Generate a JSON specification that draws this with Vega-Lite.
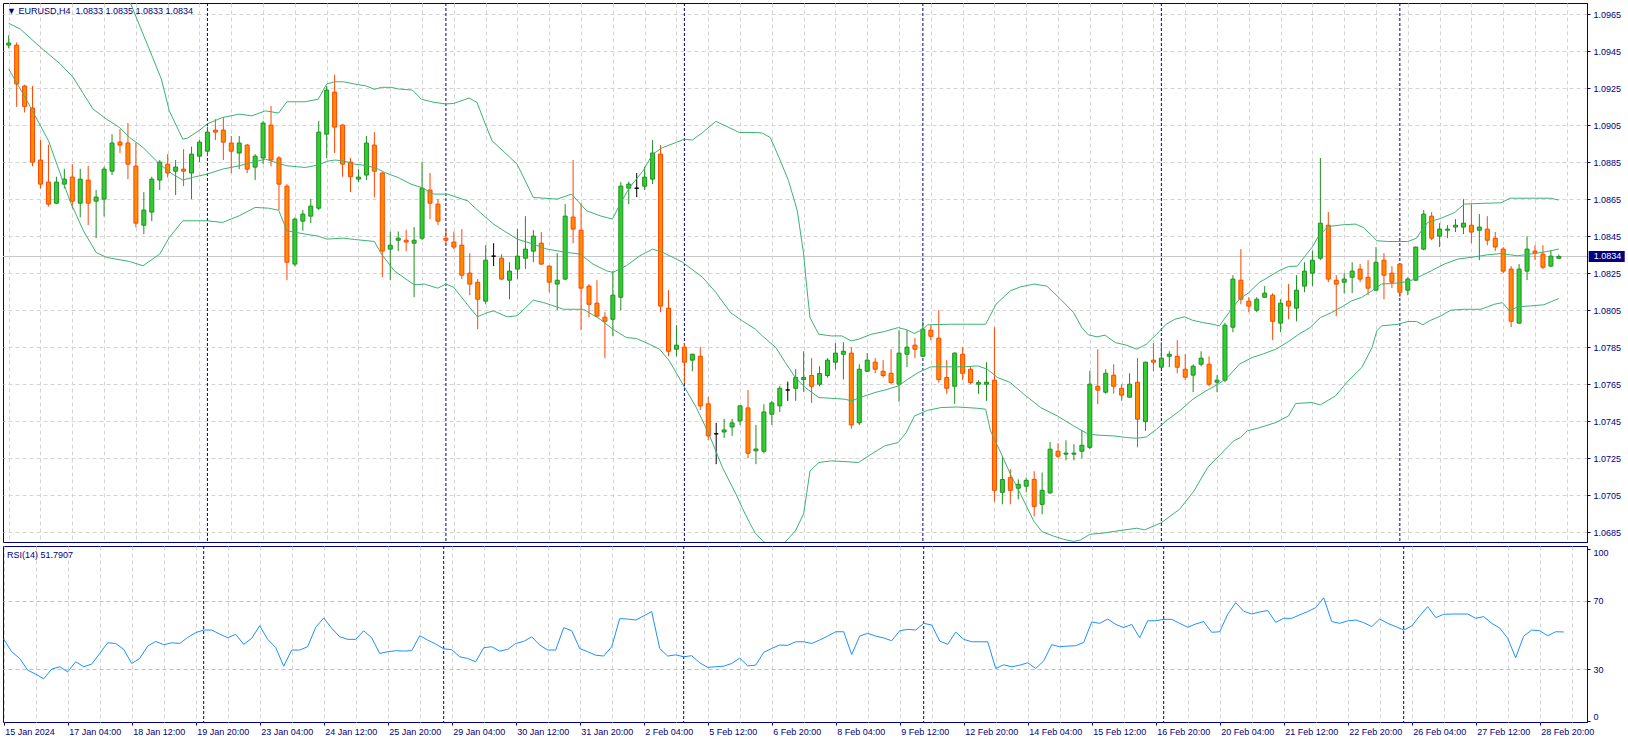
{
"$schema": "https://vega.github.io/schema/vega-lite/v6.json",
"background": "#ffffff",
"padding": {"left": 1, "top": 2, "right": 0, "bottom": 0},
"spacing": 2,
"config": {"font": "Liberation Sans", "view": {"stroke": "#000080", "strokeWidth": 1}, "axis": {"labelFont": "Liberation Sans", "labelFontSize": 9, "labelColor": "#000080", "domainColor": "#000080", "tickColor": "#000080", "labelOverlap": false}},
"datasets": {
"seps": [{"i":25},{"i":55},{"i":85},{"i":115},{"i":145},{"i":175}],
"last": [{"price": 1.0834}],
"bars": [
{"i":0,"o":1.09482,"h":1.09535,"l":1.09465,"c":1.09493,"r":47.5},
{"i":1,"o":1.09482,"h":1.09497,"l":1.09149,"c":1.09272,"r":40.3},
{"i":2,"o":1.09261,"h":1.09268,"l":1.09118,"c":1.09151,"r":36.4},
{"i":3,"o":1.09142,"h":1.09261,"l":1.08827,"c":1.0885,"r":29.6},
{"i":4,"o":1.08861,"h":1.08969,"l":1.08708,"c":1.08731,"r":27.3},
{"i":5,"o":1.08742,"h":1.08944,"l":1.0861,"c":1.08623,"r":24.6},
{"i":6,"o":1.08628,"h":1.08771,"l":1.08623,"c":1.08742,"r":30.2},
{"i":7,"o":1.08731,"h":1.08814,"l":1.08708,"c":1.08758,"r":31.6},
{"i":8,"o":1.08769,"h":1.08839,"l":1.086,"c":1.08639,"r":28.6},
{"i":9,"o":1.08628,"h":1.08814,"l":1.08551,"c":1.08758,"r":34.5},
{"i":10,"o":1.08753,"h":1.0883,"l":1.0851,"c":1.08628,"r":31.6},
{"i":11,"o":1.08639,"h":1.08699,"l":1.08439,"c":1.08661,"r":33.1},
{"i":12,"o":1.0865,"h":1.08825,"l":1.08556,"c":1.08812,"r":39.3},
{"i":13,"o":1.08801,"h":1.09001,"l":1.0878,"c":1.08953,"r":45.5},
{"i":14,"o":1.08958,"h":1.09028,"l":1.08899,"c":1.08942,"r":45.1},
{"i":15,"o":1.08953,"h":1.09061,"l":1.08758,"c":1.08839,"r":41.7},
{"i":16,"o":1.08828,"h":1.08953,"l":1.08497,"c":1.0852,"r":33.5},
{"i":17,"o":1.08509,"h":1.08688,"l":1.08461,"c":1.08591,"r":36.4},
{"i":18,"o":1.0858,"h":1.08771,"l":1.08531,"c":1.08758,"r":43.6},
{"i":19,"o":1.08753,"h":1.08861,"l":1.08699,"c":1.0885,"r":46.3},
{"i":20,"o":1.08839,"h":1.08893,"l":1.08767,"c":1.08791,"r":44.4},
{"i":21,"o":1.08801,"h":1.08861,"l":1.08672,"c":1.08823,"r":45.5},
{"i":22,"o":1.08812,"h":1.0892,"l":1.0872,"c":1.08801,"r":45.1},
{"i":23,"o":1.08791,"h":1.08933,"l":1.0865,"c":1.08893,"r":48.6},
{"i":24,"o":1.08882,"h":1.08969,"l":1.0885,"c":1.08958,"r":51.4},
{"i":25,"o":1.08909,"h":1.09041,"l":1.08882,"c":1.09012,"r":52.9},
{"i":26,"o":1.09023,"h":1.09082,"l":1.08969,"c":1.09012,"r":52.9},
{"i":27,"o":1.09023,"h":1.09093,"l":1.08861,"c":1.08958,"r":50.6},
{"i":28,"o":1.08953,"h":1.08991,"l":1.08791,"c":1.08909,"r":48.4},
{"i":29,"o":1.08899,"h":1.08991,"l":1.08812,"c":1.08953,"r":50.4},
{"i":30,"o":1.08942,"h":1.08948,"l":1.08791,"c":1.08812,"r":44.6},
{"i":31,"o":1.08823,"h":1.08893,"l":1.08753,"c":1.08882,"r":48.1},
{"i":32,"o":1.08872,"h":1.09073,"l":1.08839,"c":1.09061,"r":55.4},
{"i":33,"o":1.0905,"h":1.09153,"l":1.08827,"c":1.08861,"r":47.5},
{"i":34,"o":1.08872,"h":1.08882,"l":1.08591,"c":1.08731,"r":42.8},
{"i":35,"o":1.0872,"h":1.08731,"l":1.08212,"c":1.08309,"r":31.9},
{"i":36,"o":1.08299,"h":1.08551,"l":1.08286,"c":1.08542,"r":41.3},
{"i":37,"o":1.08531,"h":1.08591,"l":1.08479,"c":1.08569,"r":41.3},
{"i":38,"o":1.08558,"h":1.0865,"l":1.0852,"c":1.08612,"r":43.2},
{"i":39,"o":1.08601,"h":1.09073,"l":1.08591,"c":1.09012,"r":54.5},
{"i":40,"o":1.09001,"h":1.09261,"l":1.08872,"c":1.09239,"r":59.9},
{"i":41,"o":1.09228,"h":1.09322,"l":1.08899,"c":1.09039,"r":53.9},
{"i":42,"o":1.0905,"h":1.09055,"l":1.08771,"c":1.08839,"r":49.0},
{"i":43,"o":1.0885,"h":1.08872,"l":1.08688,"c":1.08771,"r":47.5},
{"i":44,"o":1.08758,"h":1.08812,"l":1.08742,"c":1.08769,"r":47.5},
{"i":45,"o":1.0878,"h":1.08991,"l":1.08753,"c":1.08953,"r":52.5},
{"i":46,"o":1.08942,"h":1.09012,"l":1.08659,"c":1.08801,"r":48.4},
{"i":47,"o":1.08791,"h":1.08795,"l":1.08228,"c":1.08369,"r":39.3},
{"i":48,"o":1.0838,"h":1.08475,"l":1.08212,"c":1.08401,"r":40.3},
{"i":49,"o":1.08428,"h":1.08475,"l":1.08369,"c":1.08439,"r":40.9},
{"i":50,"o":1.08428,"h":1.08484,"l":1.08369,"c":1.08418,"r":40.7},
{"i":51,"o":1.08412,"h":1.08499,"l":1.0812,"c":1.08428,"r":40.9},
{"i":52,"o":1.08439,"h":1.0885,"l":1.08428,"c":1.08709,"r":49.6},
{"i":53,"o":1.08699,"h":1.08791,"l":1.08542,"c":1.08628,"r":47.1},
{"i":54,"o":1.08623,"h":1.0865,"l":1.0851,"c":1.08531,"r":44.8},
{"i":55,"o":1.08439,"h":1.08488,"l":1.08401,"c":1.08428,"r":42.0},
{"i":56,"o":1.08418,"h":1.08475,"l":1.0838,"c":1.08391,"r":41.5},
{"i":57,"o":1.08401,"h":1.08488,"l":1.08218,"c":1.08239,"r":37.4},
{"i":58,"o":1.0825,"h":1.08358,"l":1.08131,"c":1.08191,"r":36.4},
{"i":59,"o":1.08201,"h":1.08218,"l":1.07947,"c":1.08109,"r":34.5},
{"i":60,"o":1.08099,"h":1.08401,"l":1.08082,"c":1.0832,"r":42.6},
{"i":61,"o":1.08342,"h":1.08412,"l":1.08288,"c":1.08342,"r":43.2},
{"i":62,"o":1.08331,"h":1.08353,"l":1.08212,"c":1.08218,"r":40.7},
{"i":63,"o":1.08212,"h":1.08309,"l":1.08109,"c":1.08261,"r":41.7},
{"i":64,"o":1.08272,"h":1.08488,"l":1.08218,"c":1.08342,"r":45.1},
{"i":65,"o":1.08331,"h":1.08558,"l":1.08272,"c":1.0838,"r":46.3},
{"i":66,"o":1.08369,"h":1.08482,"l":1.08309,"c":1.0845,"r":49.0},
{"i":67,"o":1.08412,"h":1.08472,"l":1.08295,"c":1.08299,"r":44.2},
{"i":68,"o":1.08288,"h":1.08292,"l":1.08147,"c":1.08201,"r":41.3},
{"i":69,"o":1.08191,"h":1.08358,"l":1.0805,"c":1.08212,"r":41.3},
{"i":70,"o":1.08218,"h":1.08623,"l":1.08212,"c":1.08558,"r":54.3},
{"i":71,"o":1.08553,"h":1.08861,"l":1.08412,"c":1.08488,"r":52.5},
{"i":72,"o":1.08482,"h":1.08628,"l":1.07942,"c":1.08169,"r":42.2},
{"i":73,"o":1.0818,"h":1.08191,"l":1.08012,"c":1.08082,"r":40.3},
{"i":74,"o":1.08088,"h":1.08212,"l":1.08012,"c":1.08018,"r":38.3},
{"i":75,"o":1.08012,"h":1.08039,"l":1.07791,"c":1.0799,"r":37.8},
{"i":76,"o":1.08001,"h":1.08261,"l":1.07909,"c":1.08131,"r":43.2},
{"i":77,"o":1.0812,"h":1.08742,"l":1.0805,"c":1.0872,"r":59.5},
{"i":78,"o":1.08709,"h":1.08745,"l":1.08623,"c":1.08731,"r":59.3},
{"i":79,"o":1.08709,"h":1.08791,"l":1.08661,"c":1.08709,"r":58.7},
{"i":80,"o":1.0872,"h":1.08825,"l":1.08699,"c":1.08769,"r":61.1},
{"i":81,"o":1.08758,"h":1.08969,"l":1.08731,"c":1.08899,"r":63.6},
{"i":82,"o":1.08893,"h":1.08942,"l":1.08039,"c":1.08072,"r":42.2},
{"i":83,"o":1.08061,"h":1.08158,"l":1.07801,"c":1.07828,"r":37.8},
{"i":84,"o":1.07839,"h":1.07969,"l":1.07801,"c":1.07861,"r":38.5},
{"i":85,"o":1.0785,"h":1.07872,"l":1.07655,"c":1.07769,"r":37.4},
{"i":86,"o":1.0778,"h":1.07815,"l":1.0772,"c":1.07812,"r":38.0},
{"i":87,"o":1.07801,"h":1.0785,"l":1.07511,"c":1.07533,"r":33.9},
{"i":88,"o":1.07544,"h":1.07582,"l":1.07349,"c":1.07371,"r":31.2},
{"i":89,"o":1.07382,"h":1.07441,"l":1.07218,"c":1.07382,"r":31.6},
{"i":90,"o":1.07392,"h":1.07463,"l":1.0736,"c":1.07403,"r":31.9},
{"i":91,"o":1.07419,"h":1.07463,"l":1.07371,"c":1.07441,"r":33.5},
{"i":92,"o":1.07452,"h":1.07536,"l":1.0743,"c":1.07533,"r":36.6},
{"i":93,"o":1.07522,"h":1.07619,"l":1.0725,"c":1.07277,"r":32.1},
{"i":94,"o":1.0729,"h":1.0743,"l":1.07218,"c":1.073,"r":32.5},
{"i":95,"o":1.07288,"h":1.07542,"l":1.07277,"c":1.075,"r":39.9},
{"i":96,"o":1.07488,"h":1.0756,"l":1.0743,"c":1.07549,"r":42.2},
{"i":97,"o":1.07533,"h":1.07641,"l":1.075,"c":1.07628,"r":44.2},
{"i":98,"o":1.07619,"h":1.07664,"l":1.0756,"c":1.07619,"r":44.0},
{"i":99,"o":1.07628,"h":1.07731,"l":1.0756,"c":1.07686,"r":46.1},
{"i":100,"o":1.07675,"h":1.07828,"l":1.07609,"c":1.07686,"r":46.1},
{"i":101,"o":1.07697,"h":1.07791,"l":1.07549,"c":1.07639,"r":45.1},
{"i":102,"o":1.0765,"h":1.07747,"l":1.07639,"c":1.07708,"r":47.1},
{"i":103,"o":1.07697,"h":1.07791,"l":1.07686,"c":1.0778,"r":49.4},
{"i":104,"o":1.07769,"h":1.07872,"l":1.07731,"c":1.07818,"r":51.9},
{"i":105,"o":1.07812,"h":1.07877,"l":1.07675,"c":1.07828,"r":51.9},
{"i":106,"o":1.07818,"h":1.0785,"l":1.07409,"c":1.0743,"r":38.7},
{"i":107,"o":1.07441,"h":1.07758,"l":1.0743,"c":1.07731,"r":49.4},
{"i":108,"o":1.0772,"h":1.07818,"l":1.07716,"c":1.0778,"r":51.0},
{"i":109,"o":1.07769,"h":1.07791,"l":1.07709,"c":1.07731,"r":49.4},
{"i":110,"o":1.0772,"h":1.0778,"l":1.07686,"c":1.07697,"r":48.3},
{"i":111,"o":1.07709,"h":1.07839,"l":1.0765,"c":1.07659,"r":46.7},
{"i":112,"o":1.0765,"h":1.07942,"l":1.07555,"c":1.07818,"r":52.5},
{"i":113,"o":1.07812,"h":1.07942,"l":1.07742,"c":1.0785,"r":53.3},
{"i":114,"o":1.07861,"h":1.07899,"l":1.07791,"c":1.07839,"r":52.9},
{"i":115,"o":1.07801,"h":1.0799,"l":1.07796,"c":1.07947,"r":56.8},
{"i":116,"o":1.07942,"h":1.07969,"l":1.07888,"c":1.07909,"r":55.8},
{"i":117,"o":1.07899,"h":1.0805,"l":1.07659,"c":1.07675,"r":46.5},
{"i":118,"o":1.07686,"h":1.0778,"l":1.07598,"c":1.07628,"r":44.6},
{"i":119,"o":1.07639,"h":1.07822,"l":1.07544,"c":1.07818,"r":51.7},
{"i":120,"o":1.07812,"h":1.0785,"l":1.07672,"c":1.07709,"r":47.5},
{"i":121,"o":1.07731,"h":1.07747,"l":1.0765,"c":1.07659,"r":46.1},
{"i":122,"o":1.0765,"h":1.07672,"l":1.07598,"c":1.07659,"r":46.1},
{"i":123,"o":1.0765,"h":1.07769,"l":1.0756,"c":1.07661,"r":46.1},
{"i":124,"o":1.07672,"h":1.07958,"l":1.07016,"c":1.07077,"r":30.6},
{"i":125,"o":1.07066,"h":1.07255,"l":1.07001,"c":1.07135,"r":32.7},
{"i":126,"o":1.07145,"h":1.07191,"l":1.07001,"c":1.07077,"r":31.6},
{"i":127,"o":1.07088,"h":1.07136,"l":1.07028,"c":1.07109,"r":32.5},
{"i":128,"o":1.07099,"h":1.07145,"l":1.07066,"c":1.07131,"r":33.9},
{"i":129,"o":1.07136,"h":1.0718,"l":1.06936,"c":1.0699,"r":30.6},
{"i":130,"o":1.07001,"h":1.07173,"l":1.06947,"c":1.07077,"r":35.0},
{"i":131,"o":1.07063,"h":1.07338,"l":1.07059,"c":1.07299,"r":44.4},
{"i":132,"o":1.07288,"h":1.07331,"l":1.0725,"c":1.07261,"r":43.2},
{"i":133,"o":1.07272,"h":1.07347,"l":1.07239,"c":1.07278,"r":43.6},
{"i":134,"o":1.07272,"h":1.07326,"l":1.07239,"c":1.07278,"r":43.8},
{"i":135,"o":1.07288,"h":1.07403,"l":1.0725,"c":1.0732,"r":45.7},
{"i":136,"o":1.07309,"h":1.07722,"l":1.07299,"c":1.0765,"r":57.6},
{"i":137,"o":1.07639,"h":1.07839,"l":1.07542,"c":1.07618,"r":56.8},
{"i":138,"o":1.07607,"h":1.07731,"l":1.07599,"c":1.07709,"r":59.3},
{"i":139,"o":1.07699,"h":1.07758,"l":1.07599,"c":1.07639,"r":56.2},
{"i":140,"o":1.07628,"h":1.0765,"l":1.0756,"c":1.07591,"r":54.3},
{"i":141,"o":1.0758,"h":1.07709,"l":1.07578,"c":1.0765,"r":56.2},
{"i":142,"o":1.07661,"h":1.07791,"l":1.07309,"c":1.07461,"r":48.4},
{"i":143,"o":1.07448,"h":1.07772,"l":1.07398,"c":1.07769,"r":58.3},
{"i":144,"o":1.0778,"h":1.07872,"l":1.0772,"c":1.07769,"r":58.3},
{"i":145,"o":1.07742,"h":1.07877,"l":1.07738,"c":1.07791,"r":59.1},
{"i":146,"o":1.07801,"h":1.07828,"l":1.07742,"c":1.07812,"r":59.1},
{"i":147,"o":1.07801,"h":1.07888,"l":1.07709,"c":1.07742,"r":56.8},
{"i":148,"o":1.07731,"h":1.07812,"l":1.07672,"c":1.07688,"r":54.5},
{"i":149,"o":1.07699,"h":1.07758,"l":1.07607,"c":1.07747,"r":56.4},
{"i":150,"o":1.07758,"h":1.07828,"l":1.07747,"c":1.07791,"r":57.8},
{"i":151,"o":1.07758,"h":1.07801,"l":1.07639,"c":1.0765,"r":51.6},
{"i":152,"o":1.07661,"h":1.07699,"l":1.07607,"c":1.07672,"r":51.9},
{"i":153,"o":1.07672,"h":1.07982,"l":1.07661,"c":1.07969,"r":62.0},
{"i":154,"o":1.07958,"h":1.08239,"l":1.07931,"c":1.08218,"r":68.8},
{"i":155,"o":1.08212,"h":1.0838,"l":1.08082,"c":1.08109,"r":63.8},
{"i":156,"o":1.08099,"h":1.0812,"l":1.08039,"c":1.08072,"r":62.2},
{"i":157,"o":1.0805,"h":1.0812,"l":1.08039,"c":1.08109,"r":63.4},
{"i":158,"o":1.0812,"h":1.0818,"l":1.08118,"c":1.08142,"r":64.2},
{"i":159,"o":1.08131,"h":1.08142,"l":1.07888,"c":1.0799,"r":57.4},
{"i":160,"o":1.0798,"h":1.08109,"l":1.07931,"c":1.08088,"r":59.7},
{"i":161,"o":1.08099,"h":1.08191,"l":1.08001,"c":1.08072,"r":59.7},
{"i":162,"o":1.08061,"h":1.08239,"l":1.0799,"c":1.08158,"r":61.7},
{"i":163,"o":1.0818,"h":1.08309,"l":1.08147,"c":1.08261,"r":63.6},
{"i":164,"o":1.0825,"h":1.08371,"l":1.0818,"c":1.0832,"r":65.9},
{"i":165,"o":1.08331,"h":1.08872,"l":1.0832,"c":1.0852,"r":71.6},
{"i":166,"o":1.08509,"h":1.0858,"l":1.08201,"c":1.08218,"r":57.8},
{"i":167,"o":1.08212,"h":1.08239,"l":1.08018,"c":1.08191,"r":56.8},
{"i":168,"o":1.08201,"h":1.0825,"l":1.08142,"c":1.08218,"r":58.2},
{"i":169,"o":1.08228,"h":1.08309,"l":1.08142,"c":1.08261,"r":58.7},
{"i":170,"o":1.08272,"h":1.08299,"l":1.08201,"c":1.08218,"r":57.2},
{"i":171,"o":1.08228,"h":1.0832,"l":1.08131,"c":1.08169,"r":54.9},
{"i":172,"o":1.08158,"h":1.08391,"l":1.08155,"c":1.08309,"r":59.3},
{"i":173,"o":1.0832,"h":1.08358,"l":1.08109,"c":1.08239,"r":56.8},
{"i":174,"o":1.0825,"h":1.08288,"l":1.08169,"c":1.08201,"r":54.9},
{"i":175,"o":1.08299,"h":1.08303,"l":1.0812,"c":1.08147,"r":52.9},
{"i":176,"o":1.08158,"h":1.08228,"l":1.08131,"c":1.08218,"r":55.2},
{"i":177,"o":1.08212,"h":1.08394,"l":1.08208,"c":1.08391,"r":61.1},
{"i":178,"o":1.0838,"h":1.08591,"l":1.08374,"c":1.08569,"r":66.5},
{"i":179,"o":1.08558,"h":1.0858,"l":1.08428,"c":1.08439,"r":60.1},
{"i":180,"o":1.0845,"h":1.0852,"l":1.08391,"c":1.08488,"r":62.0},
{"i":181,"o":1.08482,"h":1.08509,"l":1.08439,"c":1.08488,"r":62.2},
{"i":182,"o":1.08499,"h":1.08542,"l":1.08472,"c":1.08509,"r":62.2},
{"i":183,"o":1.08499,"h":1.0865,"l":1.08461,"c":1.0852,"r":62.2},
{"i":184,"o":1.08509,"h":1.08623,"l":1.08412,"c":1.08472,"r":59.7},
{"i":185,"o":1.08482,"h":1.08569,"l":1.0832,"c":1.08499,"r":60.7},
{"i":186,"o":1.08488,"h":1.08558,"l":1.08401,"c":1.08428,"r":56.8},
{"i":187,"o":1.08439,"h":1.08472,"l":1.08369,"c":1.08391,"r":54.1},
{"i":188,"o":1.0838,"h":1.08391,"l":1.0825,"c":1.08261,"r":48.1},
{"i":189,"o":1.08272,"h":1.08288,"l":1.07958,"c":1.0799,"r":36.8},
{"i":190,"o":1.0798,"h":1.08299,"l":1.07978,"c":1.08272,"r":49.4},
{"i":191,"o":1.08261,"h":1.0845,"l":1.08212,"c":1.0838,"r":52.9},
{"i":192,"o":1.08369,"h":1.08401,"l":1.0832,"c":1.08358,"r":52.5},
{"i":193,"o":1.08353,"h":1.08401,"l":1.08272,"c":1.08282,"r":49.6},
{"i":194,"o":1.08288,"h":1.08374,"l":1.08282,"c":1.08342,"r":51.9},
{"i":195,"o":1.0833,"h":1.0835,"l":1.0833,"c":1.0834,"r":51.79}
],
"bb": [
{"b":"u","i":0,"v":1.0985},{"b":"u","i":3,"v":1.0995},{"b":"u","i":7,"v":1.1},{"b":"u","i":10,"v":1.0998},{"b":"u","i":13,"v":1.0988},{"b":"u","i":15.2,"v":1.09722},{"b":"u","i":16.9,"v":1.09542},{"b":"u","i":18.1,"v":1.09416},{"b":"u","i":19.2,"v":1.09299},{"b":"u","i":20.2,"v":1.09127},{"b":"u","i":21.9,"v":1.08974},{"b":"u","i":22.5,"v":1.0898},{"b":"u","i":23.95,"v":1.0902},{"b":"u","i":24.95,"v":1.09056},{"b":"u","i":26.9,"v":1.09091},{"b":"u","i":29,"v":1.09109},{"b":"u","i":30.6,"v":1.091},{"b":"u","i":32.3,"v":1.09127},{"b":"u","i":33.96,"v":1.09115},{"b":"u","i":35,"v":1.09176},{"b":"u","i":37.3,"v":1.09176},{"b":"u","i":38.95,"v":1.0919},{"b":"u","i":40,"v":1.09272},{"b":"u","i":41,"v":1.09284},{"b":"u","i":42.1,"v":1.09284},{"b":"u","i":43.5,"v":1.09272},{"b":"u","i":45,"v":1.09261},{"b":"u","i":46,"v":1.09243},{"b":"u","i":46.9,"v":1.09254},{"b":"u","i":48.1,"v":1.09254},{"b":"u","i":49,"v":1.09245},{"b":"u","i":50.8,"v":1.09239},{"b":"u","i":51.9,"v":1.0919},{"b":"u","i":53.5,"v":1.09173},{"b":"u","i":55,"v":1.09164},{"b":"u","i":56,"v":1.09167},{"b":"u","i":57.9,"v":1.09196},{"b":"u","i":58.9,"v":1.09173},{"b":"u","i":59.8,"v":1.09073},{"b":"u","i":60.8,"v":1.08965},{"b":"u","i":62.3,"v":1.08906},{"b":"u","i":63.95,"v":1.08839},{"b":"u","i":66,"v":1.08659},{"b":"u","i":69,"v":1.0865},{"b":"u","i":70.8,"v":1.08677},{"b":"u","i":72.7,"v":1.08587},{"b":"u","i":74.4,"v":1.0856},{"b":"u","i":75.95,"v":1.08542},{"b":"u","i":76.9,"v":1.08623},{"b":"u","i":78.1,"v":1.08713},{"b":"u","i":79.8,"v":1.08803},{"b":"u","i":81,"v":1.08893},{"b":"u","i":82.3,"v":1.08929},{"b":"u","i":83.95,"v":1.08956},{"b":"u","i":85,"v":1.08974},{"b":"u","i":86,"v":1.08969},{"b":"u","i":87.3,"v":1.0901},{"b":"u","i":88.95,"v":1.0907},{"b":"u","i":90.6,"v":1.09037},{"b":"u","i":91.9,"v":1.0901},{"b":"u","i":93.95,"v":1.0901},{"b":"u","i":94.8,"v":1.09007},{"b":"u","i":95.8,"v":1.08983},{"b":"u","i":96.9,"v":1.08875},{"b":"u","i":98.1,"v":1.08749},{"b":"u","i":99.2,"v":1.08587},{"b":"u","i":100,"v":1.08353},{"b":"u","i":100.4,"v":1.08172},{"b":"u","i":100.8,"v":1.0801},{"b":"u","i":101.9,"v":1.0792},{"b":"u","i":103.5,"v":1.07911},{"b":"u","i":104.8,"v":1.07911},{"b":"u","i":106,"v":1.07884},{"b":"u","i":106.9,"v":1.07893},{"b":"u","i":108.5,"v":1.0792},{"b":"u","i":110.2,"v":1.07935},{"b":"u","i":111.9,"v":1.07956},{"b":"u","i":113.1,"v":1.07942},{"b":"u","i":113.9,"v":1.07924},{"b":"u","i":115,"v":1.07947},{"b":"u","i":115.6,"v":1.07971},{"b":"u","i":118.5,"v":1.07974},{"b":"u","i":120.6,"v":1.07974},{"b":"u","i":122.9,"v":1.07974},{"b":"u","i":124.2,"v":1.08082},{"b":"u","i":126,"v":1.08155},{"b":"u","i":127.3,"v":1.08176},{"b":"u","i":129,"v":1.08191},{"b":"u","i":130.6,"v":1.0818},{"b":"u","i":132.3,"v":1.0811},{"b":"u","i":133.95,"v":1.08037},{"b":"u","i":135,"v":1.07956},{"b":"u","i":135.8,"v":1.07917},{"b":"u","i":136.9,"v":1.07906},{"b":"u","i":137.9,"v":1.07915},{"b":"u","i":139.2,"v":1.07875},{"b":"u","i":140.6,"v":1.07861},{"b":"u","i":141.9,"v":1.07839},{"b":"u","i":143.1,"v":1.07866},{"b":"u","i":144.4,"v":1.0792},{"b":"u","i":145.6,"v":1.07974},{"b":"u","i":146.7,"v":1.08001},{"b":"u","i":147.9,"v":1.08014},{"b":"u","i":148.9,"v":1.07996},{"b":"u","i":150.2,"v":1.07983},{"b":"u","i":151.5,"v":1.07974},{"b":"u","i":152.3,"v":1.07965},{"b":"u","i":153.5,"v":1.08037},{"b":"u","i":154.8,"v":1.08109},{"b":"u","i":156,"v":1.08145},{"b":"u","i":157.3,"v":1.08199},{"b":"u","i":159.8,"v":1.08263},{"b":"u","i":161,"v":1.08286},{"b":"u","i":162.1,"v":1.08288},{"b":"u","i":163.1,"v":1.08344},{"b":"u","i":163.95,"v":1.08389},{"b":"u","i":164.8,"v":1.08452},{"b":"u","i":166,"v":1.08502},{"b":"u","i":167.7,"v":1.08511},{"b":"u","i":169.4,"v":1.08515},{"b":"u","i":170.4,"v":1.08497},{"b":"u","i":171.5,"v":1.08452},{"b":"u","i":172.1,"v":1.08425},{"b":"u","i":173.5,"v":1.08421},{"b":"u","i":176,"v":1.08421},{"b":"u","i":177.1,"v":1.08439},{"b":"u","i":177.7,"v":1.08479},{"b":"u","i":178.5,"v":1.08524},{"b":"u","i":180.2,"v":1.08547},{"b":"u","i":181.9,"v":1.08578},{"b":"u","i":183.1,"v":1.08623},{"b":"u","i":185.2,"v":1.08627},{"b":"u","i":187.7,"v":1.0863},{"b":"u","i":188.9,"v":1.08655},{"b":"u","i":191.4,"v":1.08655},{"b":"u","i":193.95,"v":1.08655},{"b":"u","i":195,"v":1.08645},
{"b":"m","i":0,"v":1.096},{"b":"m","i":1.45,"v":1.09569},{"b":"m","i":4,"v":1.0947},{"b":"m","i":6.5,"v":1.0938},{"b":"m","i":8.1,"v":1.09308},{"b":"m","i":10.6,"v":1.09137},{"b":"m","i":12.3,"v":1.09082},{"b":"m","i":13.95,"v":1.09037},{"b":"m","i":15.2,"v":1.08983},{"b":"m","i":16.9,"v":1.08929},{"b":"m","i":19,"v":1.08839},{"b":"m","i":20.6,"v":1.08785},{"b":"m","i":21.9,"v":1.08753},{"b":"m","i":23.1,"v":1.08767},{"b":"m","i":24.95,"v":1.08785},{"b":"m","i":26.9,"v":1.08812},{"b":"m","i":29,"v":1.0883},{"b":"m","i":30.6,"v":1.08848},{"b":"m","i":32.3,"v":1.08866},{"b":"m","i":33.96,"v":1.08843},{"b":"m","i":35,"v":1.0883},{"b":"m","i":37.3,"v":1.08821},{"b":"m","i":38.95,"v":1.08834},{"b":"m","i":40,"v":1.08854},{"b":"m","i":41,"v":1.08861},{"b":"m","i":42.1,"v":1.08857},{"b":"m","i":43.5,"v":1.08839},{"b":"m","i":45.2,"v":1.0883},{"b":"m","i":46.5,"v":1.08812},{"b":"m","i":47.3,"v":1.08794},{"b":"m","i":48.96,"v":1.08767},{"b":"m","i":50.6,"v":1.08731},{"b":"m","i":51.9,"v":1.08713},{"b":"m","i":53.5,"v":1.08677},{"b":"m","i":55.2,"v":1.08677},{"b":"m","i":57.7,"v":1.08641},{"b":"m","i":59.3,"v":1.08578},{"b":"m","i":61,"v":1.08515},{"b":"m","i":62.3,"v":1.08479},{"b":"m","i":63.95,"v":1.08434},{"b":"m","i":66,"v":1.08407},{"b":"m","i":67.7,"v":1.0838},{"b":"m","i":70.2,"v":1.08362},{"b":"m","i":71.9,"v":1.08353},{"b":"m","i":73.5,"v":1.08299},{"b":"m","i":75.2,"v":1.08263},{"b":"m","i":76,"v":1.08254},{"b":"m","i":77.7,"v":1.0829},{"b":"m","i":79.4,"v":1.08344},{"b":"m","i":81,"v":1.0838},{"b":"m","i":82.3,"v":1.08362},{"b":"m","i":84.8,"v":1.08308},{"b":"m","i":87.3,"v":1.08227},{"b":"m","i":88.95,"v":1.08146},{"b":"m","i":90.8,"v":1.08037},{"b":"m","i":92.3,"v":1.07992},{"b":"m","i":93.95,"v":1.07947},{"b":"m","i":94.8,"v":1.07911},{"b":"m","i":96.5,"v":1.07848},{"b":"m","i":97.7,"v":1.07767},{"b":"m","i":98.95,"v":1.07686},{"b":"m","i":100.2,"v":1.07632},{"b":"m","i":101.9,"v":1.07578},{"b":"m","i":103.5,"v":1.07574},{"b":"m","i":105.2,"v":1.07569},{"b":"m","i":106,"v":1.0756},{"b":"m","i":107.3,"v":1.07581},{"b":"m","i":108.96,"v":1.07605},{"b":"m","i":110.6,"v":1.07623},{"b":"m","i":111.9,"v":1.07641},{"b":"m","i":113.1,"v":1.07677},{"b":"m","i":114.4,"v":1.07713},{"b":"m","i":116,"v":1.07744},{"b":"m","i":117.7,"v":1.07744},{"b":"m","i":120.2,"v":1.07744},{"b":"m","i":121.9,"v":1.07749},{"b":"m","i":123.1,"v":1.07731},{"b":"m","i":124.4,"v":1.07686},{"b":"m","i":126,"v":1.07659},{"b":"m","i":127.7,"v":1.07596},{"b":"m","i":129.8,"v":1.07524},{"b":"m","i":131.9,"v":1.07479},{"b":"m","i":133.95,"v":1.07425},{"b":"m","i":135.8,"v":1.0738},{"b":"m","i":137.3,"v":1.07374},{"b":"m","i":138.96,"v":1.07371},{"b":"m","i":140.6,"v":1.07362},{"b":"m","i":141.9,"v":1.07358},{"b":"m","i":143.1,"v":1.07365},{"b":"m","i":144.4,"v":1.07407},{"b":"m","i":145.6,"v":1.07452},{"b":"m","i":147.3,"v":1.07506},{"b":"m","i":148.96,"v":1.07569},{"b":"m","i":150.6,"v":1.07614},{"b":"m","i":152.3,"v":1.07654},{"b":"m","i":153.5,"v":1.07695},{"b":"m","i":154.8,"v":1.07758},{"b":"m","i":156.4,"v":1.07794},{"b":"m","i":157.7,"v":1.07812},{"b":"m","i":159.4,"v":1.07839},{"b":"m","i":161,"v":1.07881},{"b":"m","i":162.3,"v":1.0792},{"b":"m","i":163.7,"v":1.07956},{"b":"m","i":165,"v":1.0801},{"b":"m","i":166.4,"v":1.08037},{"b":"m","i":167.7,"v":1.08068},{"b":"m","i":168.96,"v":1.08101},{"b":"m","i":170.2,"v":1.08119},{"b":"m","i":171.5,"v":1.08155},{"b":"m","i":172.7,"v":1.08191},{"b":"m","i":173.95,"v":1.08194},{"b":"m","i":175.2,"v":1.08199},{"b":"m","i":176.5,"v":1.08212},{"b":"m","i":177.7,"v":1.08236},{"b":"m","i":178.96,"v":1.08263},{"b":"m","i":180.6,"v":1.08299},{"b":"m","i":182.3,"v":1.08326},{"b":"m","i":184.4,"v":1.08338},{"b":"m","i":186,"v":1.08349},{"b":"m","i":187.7,"v":1.08356},{"b":"m","i":188.9,"v":1.08349},{"b":"m","i":189.8,"v":1.08344},{"b":"m","i":191.9,"v":1.08356},{"b":"m","i":193.5,"v":1.08367},{"b":"m","i":195,"v":1.0838},
{"b":"l","i":0,"v":1.09353},{"b":"l","i":2.3,"v":1.09182},{"b":"l","i":5,"v":1.08966},{"b":"l","i":7.7,"v":1.08641},{"b":"l","i":9.4,"v":1.08479},{"b":"l","i":11,"v":1.08362},{"b":"l","i":12.3,"v":1.08335},{"b":"l","i":15.2,"v":1.08313},{"b":"l","i":16.9,"v":1.0829},{"b":"l","i":19,"v":1.08353},{"b":"l","i":20.2,"v":1.08443},{"b":"l","i":21.9,"v":1.08533},{"b":"l","i":24.95,"v":1.08533},{"b":"l","i":26.9,"v":1.08524},{"b":"l","i":29,"v":1.0856},{"b":"l","i":31,"v":1.08605},{"b":"l","i":32.7,"v":1.08601},{"b":"l","i":33.96,"v":1.0859},{"b":"l","i":35,"v":1.08479},{"b":"l","i":37.3,"v":1.08461},{"b":"l","i":38.95,"v":1.0845},{"b":"l","i":40,"v":1.08434},{"b":"l","i":42.1,"v":1.08439},{"b":"l","i":43.5,"v":1.08432},{"b":"l","i":46,"v":1.08421},{"b":"l","i":46.9,"v":1.08353},{"b":"l","i":48.5,"v":1.08263},{"b":"l","i":51,"v":1.08187},{"b":"l","i":52.3,"v":1.08191},{"b":"l","i":53.95,"v":1.08169},{"b":"l","i":55,"v":1.08191},{"b":"l","i":56,"v":1.08173},{"b":"l","i":57.5,"v":1.08091},{"b":"l","i":58.96,"v":1.08014},{"b":"l","i":60.2,"v":1.08037},{"b":"l","i":61,"v":1.08046},{"b":"l","i":62.7,"v":1.08014},{"b":"l","i":63.95,"v":1.0802},{"b":"l","i":66,"v":1.08104},{"b":"l","i":67.3,"v":1.08091},{"b":"l","i":69.8,"v":1.08055},{"b":"l","i":72.3,"v":1.08055},{"b":"l","i":74.4,"v":1.08001},{"b":"l","i":76,"v":1.07947},{"b":"l","i":77.7,"v":1.07902},{"b":"l","i":78.96,"v":1.07897},{"b":"l","i":80.6,"v":1.07866},{"b":"l","i":81.9,"v":1.07839},{"b":"l","i":83.1,"v":1.07776},{"b":"l","i":84.8,"v":1.0765},{"b":"l","i":86.5,"v":1.07524},{"b":"l","i":88.1,"v":1.0738},{"b":"l","i":89.8,"v":1.07199},{"b":"l","i":91.5,"v":1.07055},{"b":"l","i":92.3,"v":1.0698},{"b":"l","i":93.1,"v":1.0691},{"b":"l","i":93.95,"v":1.06842},{"b":"l","i":95,"v":1.06799},{"b":"l","i":96.3,"v":1.0676},{"b":"l","i":97,"v":1.06775},{"b":"l","i":97.7,"v":1.06799},{"b":"l","i":98.95,"v":1.06857},{"b":"l","i":100,"v":1.0695},{"b":"l","i":100.8,"v":1.07181},{"b":"l","i":101.9,"v":1.07227},{"b":"l","i":103.5,"v":1.07236},{"b":"l","i":105.2,"v":1.07232},{"b":"l","i":106.9,"v":1.07227},{"b":"l","i":108.5,"v":1.07272},{"b":"l","i":110.2,"v":1.07317},{"b":"l","i":111.9,"v":1.07335},{"b":"l","i":112.9,"v":1.07389},{"b":"l","i":113.95,"v":1.07479},{"b":"l","i":115.6,"v":1.07509},{"b":"l","i":117.3,"v":1.07524},{"b":"l","i":119.4,"v":1.07527},{"b":"l","i":121.9,"v":1.0752},{"b":"l","i":122.9,"v":1.07515},{"b":"l","i":123.5,"v":1.07398},{"b":"l","i":124.6,"v":1.07299},{"b":"l","i":126,"v":1.07165},{"b":"l","i":127.3,"v":1.07055},{"b":"l","i":128.95,"v":1.0691},{"b":"l","i":130,"v":1.06853},{"b":"l","i":131.4,"v":1.0683},{"b":"l","i":132.7,"v":1.06812},{"b":"l","i":133.95,"v":1.06801},{"b":"l","i":134.8,"v":1.06808},{"b":"l","i":136,"v":1.06839},{"b":"l","i":137.7,"v":1.06846},{"b":"l","i":139.4,"v":1.06857},{"b":"l","i":141.9,"v":1.06872},{"b":"l","i":142.9,"v":1.06863},{"b":"l","i":145,"v":1.06902},{"b":"l","i":147.3,"v":1.06975},{"b":"l","i":149.1,"v":1.07073},{"b":"l","i":150.8,"v":1.07199},{"b":"l","i":152.45,"v":1.07272},{"b":"l","i":154.1,"v":1.07344},{"b":"l","i":154.95,"v":1.07362},{"b":"l","i":155.8,"v":1.07398},{"b":"l","i":157.1,"v":1.07412},{"b":"l","i":159.4,"v":1.07443},{"b":"l","i":161,"v":1.07479},{"b":"l","i":161.9,"v":1.07546},{"b":"l","i":163.95,"v":1.07551},{"b":"l","i":165,"v":1.07538},{"b":"l","i":166.9,"v":1.07587},{"b":"l","i":168.5,"v":1.07668},{"b":"l","i":170.2,"v":1.0774},{"b":"l","i":171.5,"v":1.07848},{"b":"l","i":172.1,"v":1.07938},{"b":"l","i":172.7,"v":1.07965},{"b":"l","i":174.8,"v":1.07974},{"b":"l","i":176,"v":1.07989},{"b":"l","i":177.1,"v":1.07989},{"b":"l","i":177.9,"v":1.07971},{"b":"l","i":178.7,"v":1.07992},{"b":"l","i":180.2,"v":1.0802},{"b":"l","i":181.4,"v":1.0805},{"b":"l","i":183.1,"v":1.08055},{"b":"l","i":185.2,"v":1.08055},{"b":"l","i":186.9,"v":1.08082},{"b":"l","i":187.9,"v":1.08091},{"b":"l","i":188.8,"v":1.08046},{"b":"l","i":189.8,"v":1.08068},{"b":"l","i":191.4,"v":1.08073},{"b":"l","i":193.1,"v":1.08079},{"b":"l","i":195,"v":1.08113}
]
},
"vconcat": [
{
"width": 1584, "height": 539,
"title": {"text": "▼ EURUSD,H4\u00a0 1.0833 1.0835 1.0833 1.0834", "anchor": "start", "frame": "group", "orient": "top", "offset": 0, "baseline": "middle", "dy": 17.7, "dx": 4, "font": "Liberation Sans", "fontSize": 9, "fontWeight": "normal", "color": "#000080"},
"layer": [
{"data": {"name": "seps"}, "mark": {"type": "rule", "color": "#000080", "strokeDash": [3, 2], "strokeWidth": 1},
 "encoding": {"x": {"field": "i", "type": "quantitative", "scale": {"domain": [-0.0875, 197.9125], "nice": false, "zero": false},
   "axis": {"title": null, "tickCount": 100, "values": [0,4,8,12,16,20,24,28,32,36,40,44,48,52,56,60,64,68,72,76,80,84,88,92,96,100,104,108,112,116,120,124,128,132,136,140,144,148,152,156,160,164,168,172,176,180,184,188,192,196], "grid": true, "gridColor": "#d4d4d4", "gridDash": [4, 3], "labels": false, "ticks": false, "domain": false}}}},
{"data": {"name": "last"}, "mark": {"type": "rule", "color": "#c8c8c8", "strokeWidth": 1},
 "encoding": {"y": {"field": "price", "type": "quantitative", "scale": {"domain": [1.067976, 1.097095], "nice": false, "zero": false},
   "axis": {"title": null, "orient": "right", "tickCount": 100, "values": [1.0685,1.0705,1.0725,1.0745,1.0765,1.0785,1.0805,1.0825,1.0845,1.0865,1.0885,1.0905,1.0925,1.0945,1.0965], "format": ".4f", "grid": true, "gridColor": "#d4d4d4", "gridDash": [4, 3], "tickSize": 3, "labelPadding": 3, "labelOverlap": false, "labelColor": "#000080", "labelFontSize": 9}}}},
{"data": {"name": "bars"}, "mark": {"type": "rule", "strokeWidth": 1, "clip": true},
 "encoding": {"x": {"field": "i", "type": "quantitative", "scale": {"domain": [-0.0875, 197.9125], "nice": false, "zero": false}},
   "y": {"field": "l", "type": "quantitative", "scale": {"domain": [1.067976, 1.097095], "nice": false, "zero": false}},
   "y2": {"field": "h"},
   "color": {"condition": [{"test": "datum.c > datum.o", "value": "#1F8F1F"}, {"test": "datum.c < datum.o", "value": "#FF4500"}], "value": "#000000"}}},
{"data": {"name": "bars"}, "mark": {"type": "bar", "width": 4, "strokeWidth": 1, "clip": true},
 "encoding": {"x": {"field": "i", "type": "quantitative", "scale": {"domain": [-0.0875, 197.9125], "nice": false, "zero": false}},
   "y": {"field": "o", "type": "quantitative", "scale": {"domain": [1.067976, 1.097095], "nice": false, "zero": false}},
   "y2": {"field": "c"},
   "fill": {"condition": [{"test": "datum.c > datum.o", "value": "#32CD32"}, {"test": "datum.c < datum.o", "value": "#FF8C00"}], "value": "#000000"},
   "stroke": {"condition": [{"test": "datum.c > datum.o", "value": "#1F8F1F"}, {"test": "datum.c < datum.o", "value": "#FF4500"}], "value": "#000000"}}},
{"data": {"name": "bb"}, "mark": {"type": "line", "color": "#3CB371", "strokeWidth": 1, "clip": true},
 "encoding": {"x": {"field": "i", "type": "quantitative", "scale": {"domain": [-0.0875, 197.9125], "nice": false, "zero": false}},
   "y": {"field": "v", "type": "quantitative", "scale": {"domain": [1.067976, 1.097095], "nice": false, "zero": false}},
   "detail": {"field": "b", "type": "nominal"}}},
{"data": {"name": "last"}, "mark": {"type": "point", "shape": "M-1,-0.3L1,-0.3L1,0.3L-1,0.3Z", "size": 1296, "filled": true, "color": "#000080", "opacity": 1, "strokeWidth": 0, "xOffset": 19.7},
 "encoding": {"x": {"value": "width"}, "y": {"field": "price", "type": "quantitative", "scale": {"domain": [1.067976, 1.097095], "nice": false, "zero": false}}}},
{"data": {"name": "last"}, "mark": {"type": "text", "align": "left", "baseline": "middle", "dx": 6.7, "color": "#ffffff", "font": "Liberation Sans", "fontSize": 9},
 "encoding": {"x": {"value": "width"}, "y": {"field": "price", "type": "quantitative", "scale": {"domain": [1.067976, 1.097095], "nice": false, "zero": false}}, "text": {"field": "price", "type": "quantitative", "format": ".4f"}}}
]
},
{
"width": 1584, "height": 176,
"title": {"text": "RSI(14) 51.7907", "anchor": "start", "frame": "group", "orient": "top", "offset": 0, "baseline": "middle", "dy": 18.8, "dx": 4, "font": "Liberation Sans", "fontSize": 9, "fontWeight": "normal", "color": "#000080"},
"layer": [
{"data": {"name": "seps"}, "mark": {"type": "rule", "color": "#000080", "strokeDash": [3, 2], "strokeWidth": 1},
 "encoding": {"x": {"field": "i", "type": "quantitative", "scale": {"domain": [-0.0875, 197.9125], "nice": false, "zero": false},
   "axis": {"title": null, "tickCount": 100, "values": [0,4,8,12,16,20,24,28,32,36,40,44,48,52,56,60,64,68,72,76,80,84,88,92,96,100,104,108,112,116,120,124,128,132,136,140,144,148,152,156,160,164,168,172,176,180,184,188,192,196], "grid": true, "gridColor": "#d4d4d4", "gridDash": [4, 3], "domain": false, "tickSize": 3,
     "tickOpacity": {"condition": {"test": "datum.value % 8 === 0", "value": 1}, "value": 0},
     "labelExpr": "datum.value % 8 === 0 ? ['15 Jan 2024','17 Jan 04:00','18 Jan 12:00','19 Jan 20:00','23 Jan 04:00','24 Jan 12:00','25 Jan 20:00','29 Jan 04:00','30 Jan 12:00','31 Jan 20:00','2 Feb 04:00','5 Feb 12:00','6 Feb 20:00','8 Feb 04:00','9 Feb 12:00','12 Feb 20:00','14 Feb 04:00','15 Feb 12:00','16 Feb 20:00','20 Feb 04:00','21 Feb 12:00','22 Feb 20:00','26 Feb 04:00','27 Feb 12:00','28 Feb 20:00'][datum.value / 8] : ''",
     "labelAlign": "left", "labelBaseline": "top", "labelOffset": 1, "labelPadding": 2, "labelOverlap": false, "labelFlush": false, "labelBound": false, "labelColor": "#000080", "labelFontSize": 9}}}},
{"data": {"name": "bars"}, "mark": {"type": "line", "color": "#1E90FF", "strokeWidth": 1},
 "encoding": {"x": {"field": "i", "type": "quantitative", "scale": {"domain": [-0.0875, 197.9125], "nice": false, "zero": false}},
   "y": {"field": "r", "type": "quantitative", "scale": {"domain": [-0.48, 101.68], "nice": false, "zero": false},
     "axis": {"title": null, "orient": "right", "tickCount": 100, "values": [0, 30, 70, 100], "grid": true, "gridColor": "#c0c0c0", "gridDash": [4, 3],
       "gridOpacity": {"condition": {"test": "datum.value === 30 || datum.value === 70", "value": 1}, "value": 0},
       "tickSize": 3, "labelPadding": 3, "labelFlush": 5, "labelColor": "#000080", "labelFontSize": 9}}}}
]
}
]
}
